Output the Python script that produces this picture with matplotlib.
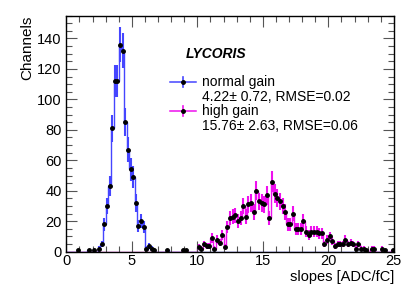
import numpy as np
import matplotlib
matplotlib.use("Agg")
from matplotlib import pyplot as plt
from matplotlib.ticker import MultipleLocator

plt.rcParams['font.family'] = ['Liberation Sans', 'DejaVu Sans']

# histogram binning: 125 bins of 0.2 between 0 and 25
bin_edges = np.linspace(0, 25, 126)

# counts per bin, one row per unit of slope (5 bins each)
normal_counts = [
    0, 0, 0, 0, 1,
    0, 0, 0, 1, 0,
    1, 0, 2, 5, 18,
    30, 43, 81, 112, 112,
    136, 132, 85, 67, 54,
    49, 32, 17, 20, 16,
    2, 4, 2, 1, 0,
    0, 0, 0, 1, 0,
] + [0] * 85

high_counts = [0] * 40 + [
    0, 0, 0, 0, 1,
    1, 0, 0, 0, 0,
    3, 2, 5, 4, 4,
    9, 2, 8, 6, 11,
    3, 16, 22, 23, 24,
    20, 22, 30, 23, 31,
    32, 26, 40, 33, 32,
    31, 37, 22, 46, 38,
    35, 33, 30, 26, 18,
    18, 25, 15, 15, 15,
    20, 13, 11, 13, 13,
    13, 12, 12, 5, 8,
    10, 7, 4, 5, 5,
    5, 8, 5, 6, 5,
    2, 5, 2, 2, 1,
    0, 2, 2, 0, 0,
    2, 1, 0, 0, 1,
]

series = [
    ('normal gain', '4.22\u00b1 0.72, RMSE=0.02', normal_counts, '#4545ff'),
    ('high gain', '15.76\u00b1 2.63, RMSE=0.06', high_counts, '#ee10ee'),
]

fig = plt.figure(figsize=(4.15, 3.0), dpi=100)
ax = fig.add_axes([0.16, 0.161, 0.789, 0.787])

centers = 0.5 * (bin_edges[:-1] + bin_edges[1:])
for name, stats, counts, col in series:
    counts = np.array(counts, dtype=float)
    ax.stairs(counts, bin_edges, color=col, lw=1.0)
    nz = counts > 0
    ax.errorbar(centers[nz], counts[nz], yerr=np.sqrt(counts[nz]), fmt='none',
                ecolor=col, elinewidth=1.5)
    ax.errorbar(centers[nz], counts[nz], xerr=0.09, fmt='o', color='k',
                ms=2.5, elinewidth=0.9)

ax.set_xlim(0, 25)
ax.set_ylim(0, 155)
ax.xaxis.set_major_locator(MultipleLocator(5))
ax.xaxis.set_minor_locator(MultipleLocator(1))
ax.yaxis.set_major_locator(MultipleLocator(20))
ax.yaxis.set_minor_locator(MultipleLocator(5))
ax.tick_params(which='both', direction='in', top=True, right=True, labelsize=10.5)
ax.tick_params(which='major', length=8, width=0.8, color='#555555')
ax.tick_params(which='minor', length=4, width=0.8, color='#555555')
ax.tick_params(axis='x', pad=2)
for sp in ax.spines.values():
    sp.set_linewidth(1.0)

ax.set_ylabel('Channels', fontsize=11, loc='top', labelpad=2)
ax.set_xlabel('slopes [ADC/fC]', fontsize=10.5, loc='right', labelpad=1)

# header and legend, ROOT style
ax.text(0.365, 0.838, 'LYCORIS', transform=ax.transAxes, fontsize=10,
        fontweight='bold', fontstyle='italic', va='center')
for i, (name, stats, counts, col) in enumerate(series):
    y0 = 0.718 - i * 0.123
    ax.plot([0.317, 0.395], [y0, y0], transform=ax.transAxes, color=col, lw=1.1)
    ax.plot([0.356, 0.356], [y0 - 0.02, y0 + 0.02], transform=ax.transAxes,
            color=col, lw=1.2)
    ax.plot([0.356], [y0], 'o', transform=ax.transAxes, color='k', ms=2.5)
    ax.text(0.413, y0, name, transform=ax.transAxes, fontsize=10, va='center')
    ax.text(0.413, y0 - 0.061, stats, transform=ax.transAxes, fontsize=10,
            va='center')

fig.savefig('out.png', dpi=100)
